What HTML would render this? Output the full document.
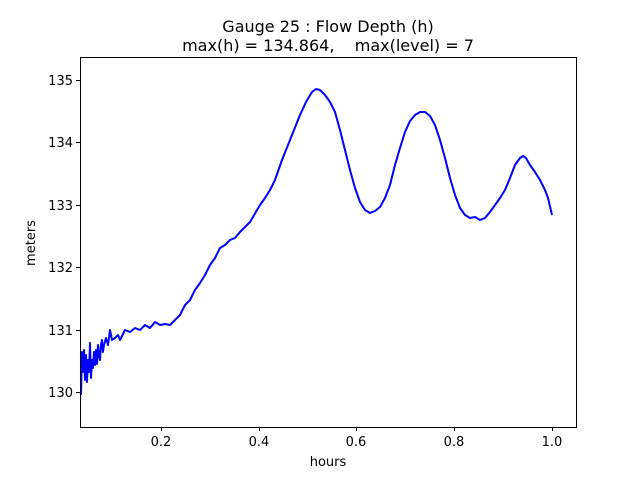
<!DOCTYPE html>
<html><head><style>body{margin:0;background:#fff}svg{display:block}text{font-family:"DejaVu Sans","Liberation Sans",sans-serif;fill:#000}</style></head>
<body>
<svg width="640" height="480" viewBox="0 0 640 480">
<rect width="640" height="480" fill="#fff"/>
<text x="328" y="32" font-size="16" text-anchor="middle">Gauge 25 : Flow Depth (h)</text>
<text x="328" y="51" font-size="16" text-anchor="middle" xml:space="preserve">max(h) = 134.864,    max(level) = 7</text>
<polyline fill="none" stroke="#0000ff" stroke-width="2" stroke-linejoin="round" points="81,395 82,352 83,372 84,350 85,380 86,355 87,382 88,360 89,372 90,343 91,378 92,360 93,368 94,352 95,365 96,350 97,364 98,345 99,355 100,360 101,345 102,340 103,352 104,345 106,338 108,345 110,330 112,340 115,338 118,335 120,340 125,330 130,332 135,328 140,330 145,325 150,328 155,322 160,325 165,324 170,325 175,320 180,315 185,305 190,300 195,290 200,283 205,275 210,265 215,258 220,248 225,245 230,240 235,238 240,232 250,222 260,205 265,198 270,190 275,180 282,160 290,140 296,125 300,115 306,102 312,92 316,89 320,90 325,95 330,102 335,112 340,130 345,150 350,170 355,188 360,202 365,210 370,213 375,211 380,207 385,198 390,185 395,165 400,148 405,132 410,121 415,115 420,112 425,112 430,116 435,125 440,140 445,158 450,178 455,195 460,208 465,215 470,218 475,217 480,220 485,218 490,212 495,205 500,198 505,190 510,178 515,165 520,158 523,156 526,158 530,165 535,172 540,180 545,190 548,198 552,215"/>
<rect x="80.5" y="57.5" width="496" height="370" fill="none" stroke="#000" stroke-width="1"/>
<g stroke="#000" stroke-width="1">
<line x1="161.5" y1="427" x2="161.5" y2="431"/><line x1="259.5" y1="427" x2="259.5" y2="431"/><line x1="356.5" y1="427" x2="356.5" y2="431"/><line x1="454.5" y1="427" x2="454.5" y2="431"/><line x1="552.5" y1="427" x2="552.5" y2="431"/>
<line x1="76" y1="392.5" x2="80" y2="392.5"/><line x1="76" y1="330.5" x2="80" y2="330.5"/><line x1="76" y1="267.5" x2="80" y2="267.5"/><line x1="76" y1="205.5" x2="80" y2="205.5"/><line x1="76" y1="142.5" x2="80" y2="142.5"/><line x1="76" y1="80.5" x2="80" y2="80.5"/>
</g>
<g font-size="13" text-anchor="middle">
<text x="161" y="446">0.2</text><text x="259" y="446">0.4</text><text x="356" y="446">0.6</text><text x="454" y="446">0.8</text><text x="552" y="446">1.0</text>
<text x="328" y="466">hours</text>
</g>
<g font-size="13" text-anchor="end">
<text x="73" y="397">130</text><text x="73" y="335">131</text><text x="73" y="272">132</text><text x="73" y="210">133</text><text x="73" y="147">134</text><text x="73" y="85">135</text>
</g>
<text x="35" y="243" font-size="13" text-anchor="middle" transform="rotate(-90 35 243)">meters</text>
</svg>
</body></html>
